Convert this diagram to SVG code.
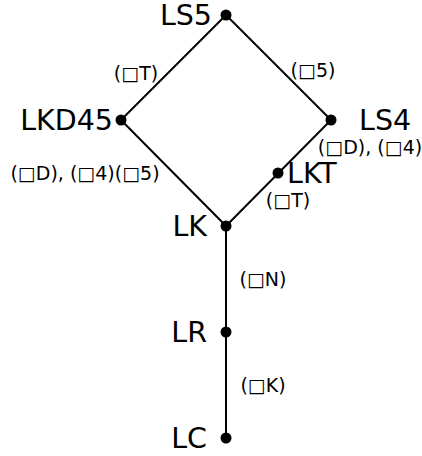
<svg xmlns="http://www.w3.org/2000/svg" width="422" height="456" viewBox="0 0 422 456">
<style>
.e{stroke:#000;stroke-width:2;fill:none}
.d{fill:#000}
.n{font-family:"DejaVu Sans",sans-serif;font-size:28.5px;fill:#000}
.l{font-family:"DejaVu Sans",sans-serif;font-size:19px;fill:#000}
</style>
<rect width="422" height="456" fill="#fff"/>
<g id="edges">
<line class="e" x1="226" y1="15" x2="121" y2="120"/>
<line class="e" x1="226" y1="15" x2="331" y2="120"/>
<line class="e" x1="121" y1="120" x2="226" y2="226"/>
<line class="e" x1="331" y1="120" x2="226" y2="226"/>
<line class="e" x1="226" y1="226" x2="226" y2="438"/>
<text class="l" x="136" y="80" text-anchor="middle">(□T)</text>
<text class="l" x="313" y="77" text-anchor="middle">(□5)</text>
<text class="l" x="370" y="154" text-anchor="middle">(□D), (□4)</text>
<text class="l" x="85" y="180" text-anchor="middle">(□D), (□4)(□5)</text>
<text class="l" x="288" y="207" text-anchor="middle">(□T)</text>
<text class="l" x="263" y="286" text-anchor="middle">(□N)</text>
<text class="l" x="263" y="392" text-anchor="middle">(□K)</text>
</g>
<g id="LS5"><circle class="d" cx="226" cy="15" r="5.5"/><text class="n" x="212" y="25" text-anchor="end">LS5</text></g>
<g id="LKD45"><circle class="d" cx="121" cy="120" r="5.5"/><text class="n" x="113" y="130" text-anchor="end">LKD45</text></g>
<g id="LS4"><circle class="d" cx="331" cy="120" r="5.5"/><text class="n" x="359" y="130">LS4</text></g>
<g id="LKT"><circle class="d" cx="278" cy="173" r="5.5"/><text class="n" x="287" y="183">LKT</text></g>
<g id="LK"><circle class="d" cx="226" cy="226" r="5.5"/><text class="n" x="207" y="236" text-anchor="end">LK</text></g>
<g id="LR"><circle class="d" cx="226" cy="332" r="5.5"/><text class="n" x="207" y="342" text-anchor="end">LR</text></g>
<g id="LC"><circle class="d" cx="226" cy="438" r="5.5"/><text class="n" x="207" y="448" text-anchor="end">LC</text></g>
</svg>
